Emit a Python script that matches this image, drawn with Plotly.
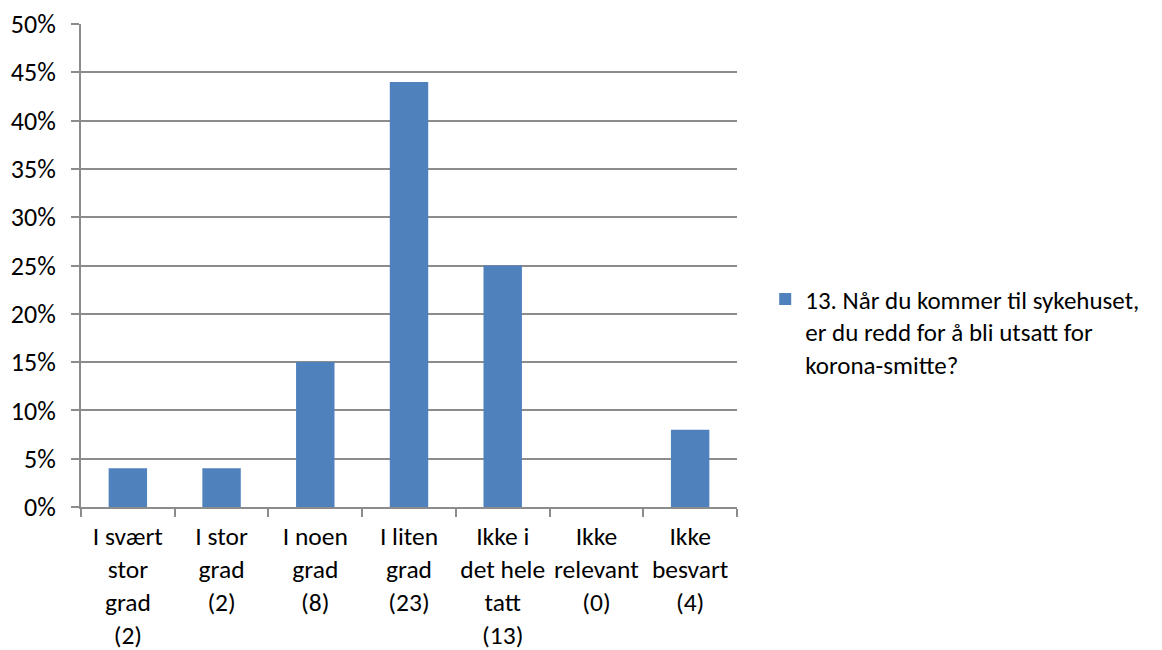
import plotly.graph_objects as go

categories = ["I svært<br>stor<br>grad<br>(2)", "I stor<br>grad<br>(2)", "I noen<br>grad<br>(8)",
              "I liten<br>grad<br>(23)", "Ikke i<br>det hele<br>tatt<br>(13)", "Ikke<br>relevant<br>(0)",
              "Ikke<br>besvart<br>(4)"]
values = [4, 4, 15, 44, 25, 0, 8]
series_name = "13. Når du kommer til sykehuset,<br>er du redd for å bli utsatt for<br>korona-smitte?"
y_ticks = [0, 5, 10, 15, 20, 25, 30, 35, 40, 45, 50]
y_ticklabels = [f"{v}%" for v in y_ticks]

grid = "#8c8c8c"
font = "Carlito, Open Sans, Noto Sans, sans-serif"

fig = go.Figure(go.Bar(x=categories, y=values, name=series_name,
                       marker=dict(color="#4F81BD", line=dict(width=0)),
                       showlegend=True))

fig.update_layout(
    width=1162, height=650,
    margin=dict(l=81, r=425, t=24, b=143),
    paper_bgcolor="white", plot_bgcolor="white",
    bargap=0.59,
    font=dict(family=font, size=26, color="#000000"),
    legend=dict(x=1.043, y=0.478, xanchor="left", yanchor="top",
                font=dict(size=25), valign="top", itemwidth=30,
                tracegroupgap=0, bgcolor="rgba(0,0,0,0)"),
)
fig.update_xaxes(showline=True, linecolor=grid, linewidth=2,
                 ticks="outside", tickson="boundaries", ticklen=8, tickcolor=grid, tickwidth=2,
                 showgrid=False, tickfont=dict(size=25.5), automargin=False,
                 tickangle=0, ticklabelstandoff=5)
fig.update_yaxes(range=[0, 50], tickvals=y_ticks, ticktext=y_ticklabels,
                 showline=True, linecolor=grid, linewidth=2,
                 ticks="outside", ticklen=8, tickcolor=grid, tickwidth=2,
                 showgrid=True, gridcolor=grid, gridwidth=2, zeroline=False,
                 tickfont=dict(size=26), ticklabelstandoff=10, automargin=False)

fig.write_html("out.html", config={"displayModeBar": False},
               post_script="document.body.style.margin='0';")
